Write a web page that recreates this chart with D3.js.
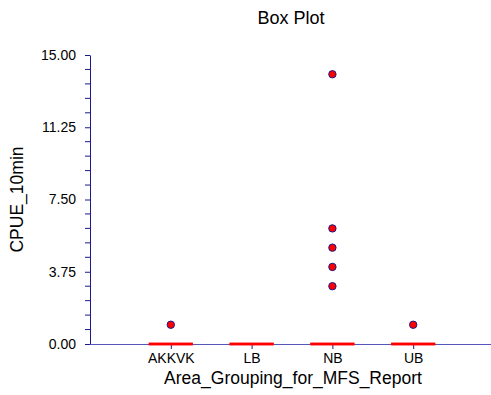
<!DOCTYPE html>
<html>
<head>
<meta charset="utf-8">
<script src="https://cdn.jsdelivr.net/npm/d3@7"></script>
<style>
  html, body { margin: 0; padding: 0; background: #fff; }
  svg text { font-family: "Liberation Sans", Arial, Helvetica, sans-serif; fill: #000; }
</style>
</head>
<body>
<svg id="chart" width="491" height="395"></svg>
<script>
// Box plot summary per area group (all quartiles collapse to zero)
const categories = ["AKKVK", "LB", "NB", "UB"];
const q1Values = [0, 0, 0, 0];
const medianValues = [0, 0, 0, 0];
const q3Values = [0, 0, 0, 0];
const whiskerLow = [0, 0, 0, 0];
const whiskerHigh = [0, 0, 0, 0];
const outlierValues = [[1], [], [3, 4, 5, 6, 14], [1]];
const yTickValues = [0, 3.75, 7.5, 11.25, 15];

const navy = "#1a1a8c";
const svg = d3.select("#chart");
const plotLeft = 90, plotRight = 494, plotTop = 55, plotBottom = 344;

const x = d3.scalePoint().domain(categories).range([plotLeft, plotRight]).padding(1);
const y = d3.scaleLinear().domain([0, 15]).range([plotBottom, plotTop]);

// Title
svg.append("text").attr("x", 291).attr("y", 24)
  .attr("text-anchor", "middle").style("font-size", "18px").text("Box Plot");

// Y axis: major ticks with labels, plus minor ticks every 0.75
const yAxis = svg.append("g").attr("transform", `translate(${plotLeft},0)`)
  .call(d3.axisLeft(y).tickValues(yTickValues).tickFormat(d3.format(".2f"))
    .tickSize(5).tickPadding(9).tickSizeOuter(0));
yAxis.select(".domain").attr("stroke", navy);
yAxis.selectAll(".tick line").attr("stroke", navy);
yAxis.selectAll(".tick text").style("font-size", "14px")
  .style("font-family", "'Liberation Sans', Arial, sans-serif");
const minor = d3.range(0, 15.001, 0.75).filter(v => !yTickValues.some(t => Math.abs(t - v) < 1e-6));
yAxis.append("g").selectAll("line").data(minor).join("line")
  .attr("x1", -5).attr("x2", 0)
  .attr("y1", d => y(d)).attr("y2", d => y(d))
  .attr("stroke", navy);

// X axis
const xAxis = svg.append("g").attr("transform", `translate(0,${plotBottom})`)
  .call(d3.axisBottom(x).tickSize(5).tickPadding(4).tickSizeOuter(0));
xAxis.select(".domain").attr("stroke", "#5555bb").attr("d", `M${plotLeft},0.5H491`);
xAxis.selectAll(".tick line").attr("stroke", navy);
xAxis.selectAll(".tick text").style("font-size", "14px")
  .style("font-family", "'Liberation Sans', Arial, sans-serif");

// Axis titles
svg.append("text").attr("x", 293).attr("y", 384)
  .attr("text-anchor", "middle").style("font-size", "17.5px")
  .text("Area_Grouping_for_MFS_Report");
svg.append("text").attr("transform", `translate(23,${(plotTop + plotBottom) / 2}) rotate(-90)`)
  .attr("text-anchor", "middle").style("font-size", "17.5px").text("CPUE_10min");

// Boxes, whiskers and medians
const boxW = 44;
const g = svg.append("g");
categories.forEach((c, i) => {
  const cx = x(c);
  g.append("line").attr("x1", cx).attr("x2", cx)
    .attr("y1", y(whiskerLow[i])).attr("y2", y(whiskerHigh[i]))
    .attr("stroke", "red").attr("stroke-width", 1);
  g.append("rect").attr("x", cx - boxW / 2).attr("width", boxW)
    .attr("y", y(q3Values[i]) - 1.25)
    .attr("height", y(q1Values[i]) - y(q3Values[i]) + 2.5)
    .attr("fill", "red");
  g.append("line").attr("x1", cx - boxW / 2).attr("x2", cx + boxW / 2)
    .attr("y1", y(medianValues[i])).attr("y2", y(medianValues[i]))
    .attr("stroke", "red").attr("stroke-width", 2.5);
  g.selectAll(null).data(outlierValues[i]).join("circle")
    .attr("cx", cx).attr("cy", d => y(d)).attr("r", 3.7)
    .attr("fill", "red").attr("stroke", navy).attr("stroke-width", 1);
});
</script>
</body>
</html>
